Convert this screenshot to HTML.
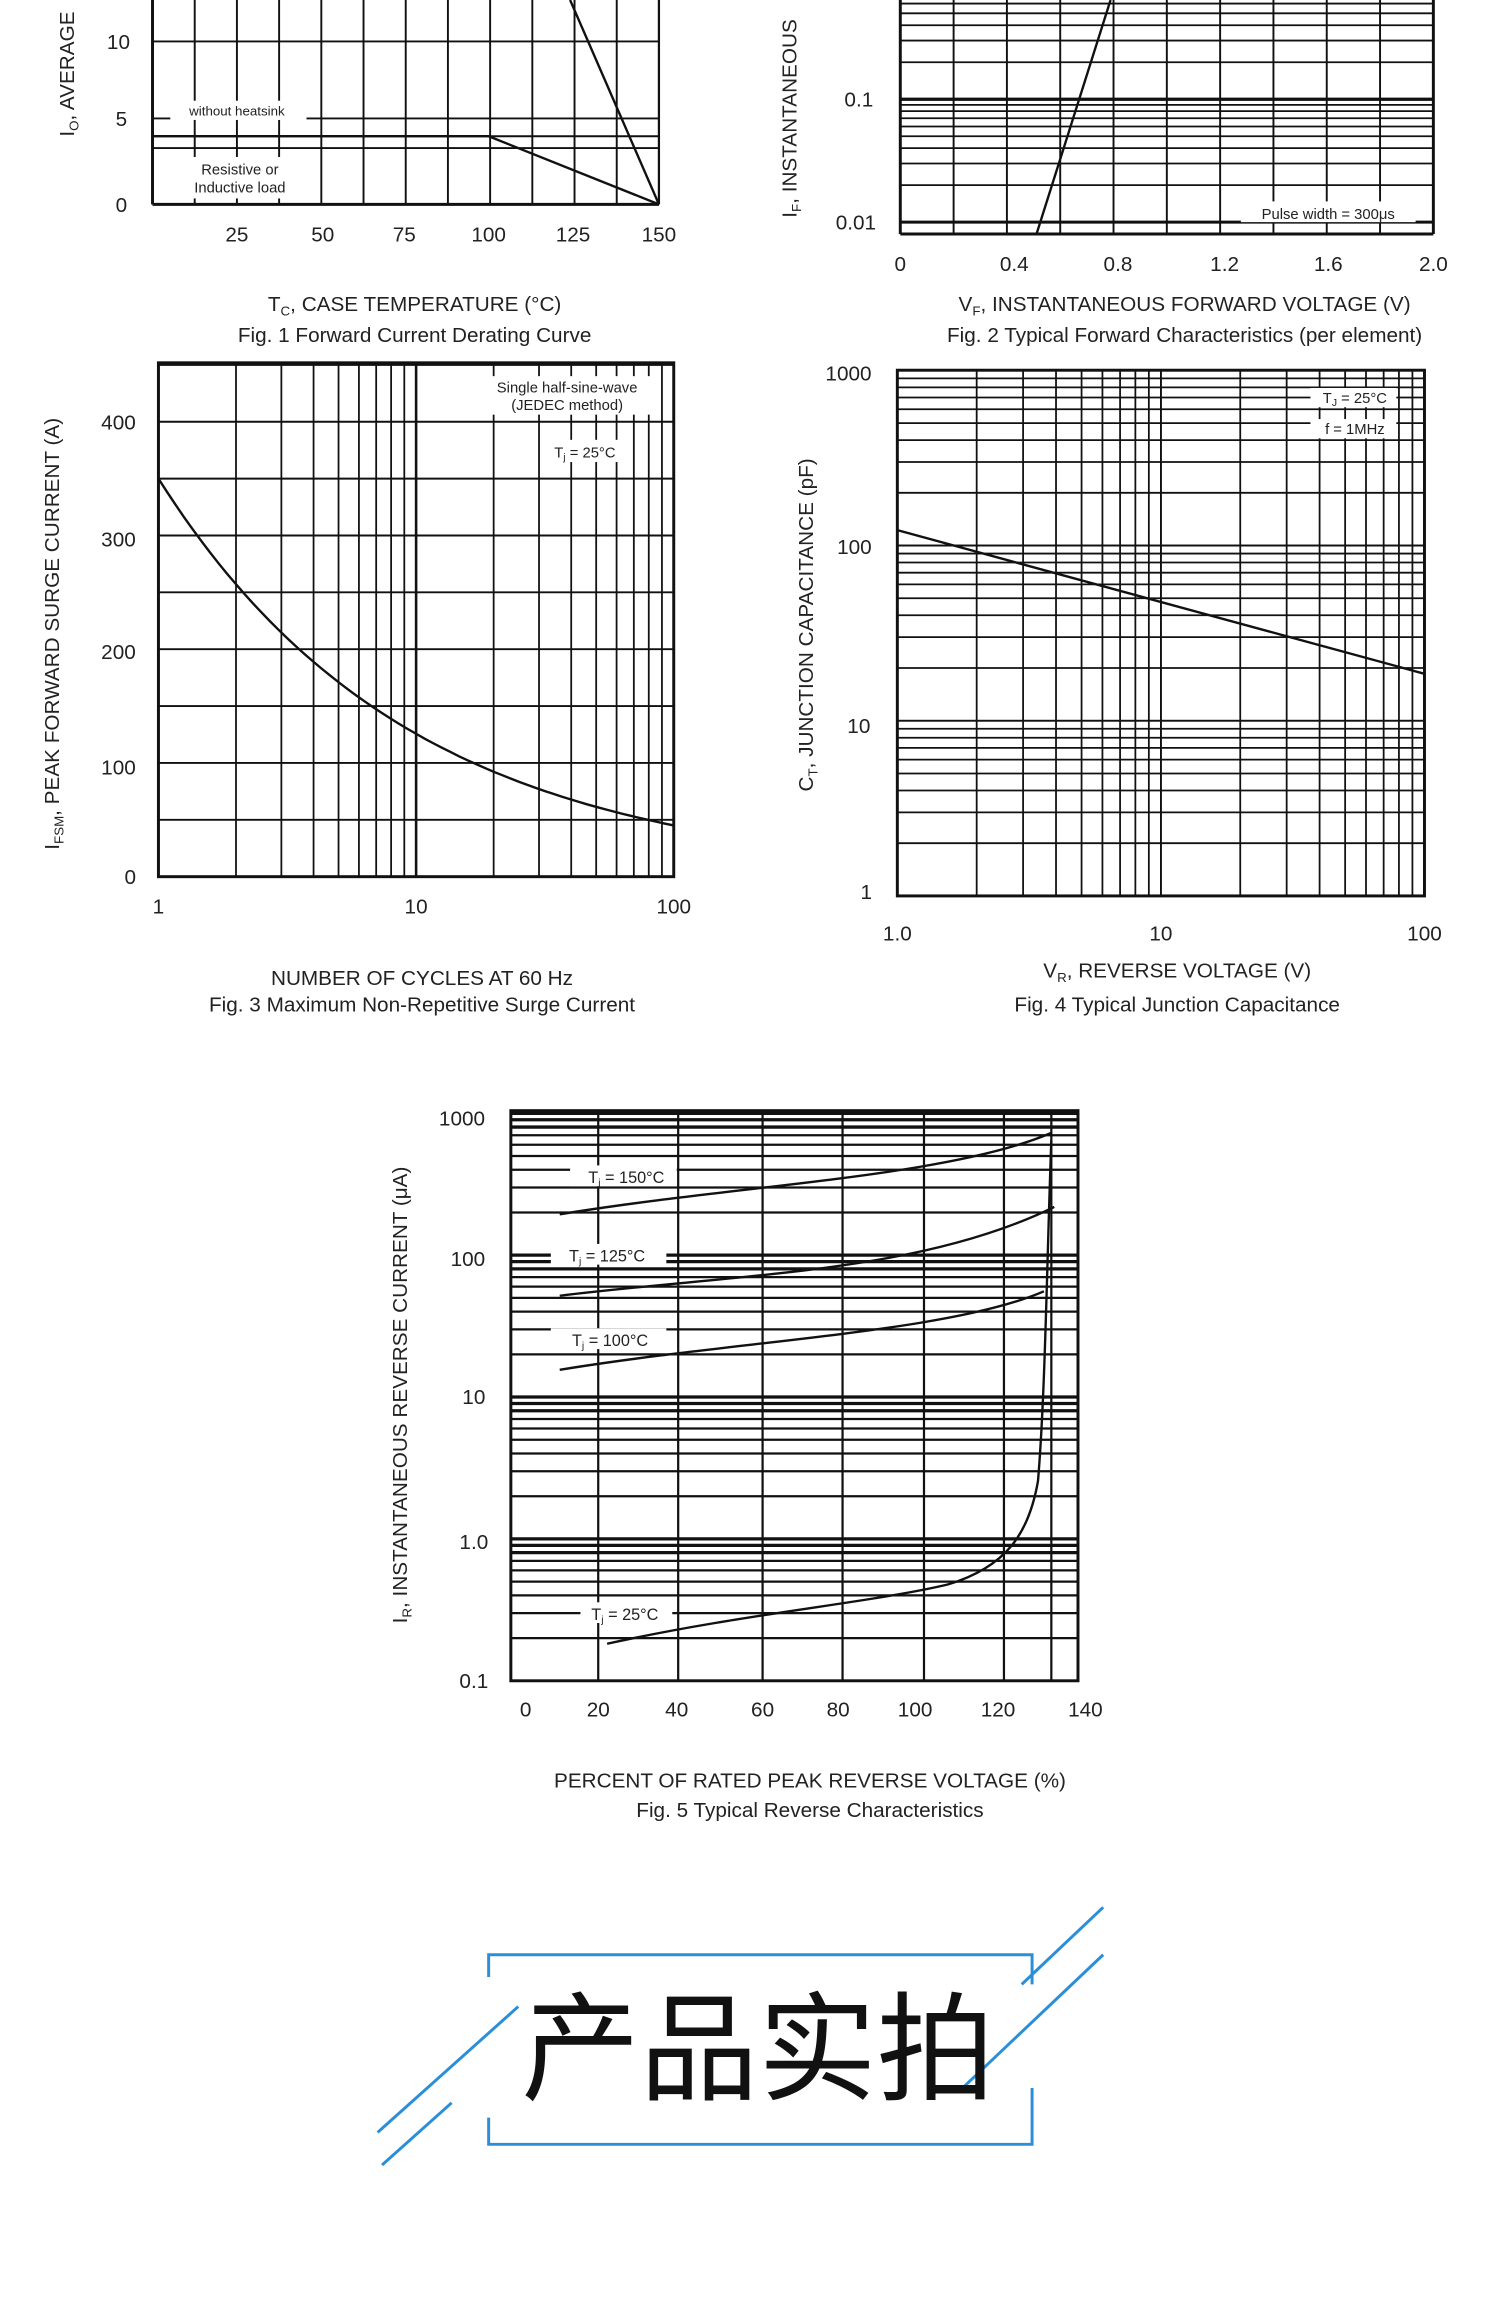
<!DOCTYPE html>
<html><head><meta charset="utf-8"><style>
html,body{margin:0;padding:0;background:#fff;}
svg{display:block;}
text{font-family:"Liberation Sans","Noto Sans CJK SC",sans-serif;fill:#222;}
</style></head><body>
<svg id="s" width="1500" height="2322" viewBox="0 0 1013 1568" preserveAspectRatio="none" xmlns="http://www.w3.org/2000/svg">
<rect width="1013" height="1568" fill="#fff"/>
<g id="g" stroke="#111" fill="none"></g>
<g fill="#fff">
<rect x="115" y="68" width="92" height="13"/>
<rect x="120" y="106" width="84" height="28"/>
<rect x="838" y="136" width="118" height="14"/>
<rect x="325" y="254" width="118" height="26"/>
<rect x="368" y="297" width="54" height="15"/>
<rect x="885" y="262" width="58" height="13"/>
<rect x="885" y="283" width="58" height="13"/>
</g>
<g font-size="14" text-anchor="middle">
<text x="80" y="33">10</text><text x="82" y="85">5</text><text x="82" y="143">0</text>
<text x="160" y="163">25</text><text x="218" y="163">50</text><text x="273" y="163">75</text><text x="330" y="163">100</text><text x="387" y="163">125</text><text x="445" y="163">150</text>
<text x="160" y="78" font-size="9">without heatsink</text>
<text x="162" y="118" font-size="10">Resistive or</text><text x="162" y="130" font-size="10">Inductive load</text>
<text transform="translate(50,50) rotate(-90)" font-size="14">I<tspan font-size="9" dy="3">O</tspan><tspan dy="-3">, AVERAGE</tspan></text>
<text x="280" y="210" font-size="14">T<tspan font-size="9" dy="3">C</tspan><tspan dy="-3">, CASE TEMPERATURE (°C)</tspan></text>
<text x="280" y="231" font-size="14">Fig. 1  Forward Current Derating Curve</text>
<text x="580" y="72">0.1</text><text x="578" y="155">0.01</text>
<text x="608" y="183">0</text><text x="685" y="183">0.4</text><text x="755" y="183">0.8</text><text x="827" y="183">1.2</text><text x="897" y="183">1.6</text><text x="968" y="183">2.0</text>
<text x="897" y="148" font-size="10">Pulse width = 300μs</text>
<text transform="translate(538,80) rotate(-90)" font-size="14">I<tspan font-size="9" dy="3">F</tspan><tspan dy="-3">, INSTANTANEOUS</tspan></text>
<text x="800" y="210" font-size="14">V<tspan font-size="9" dy="3">F</tspan><tspan dy="-3">, INSTANTANEOUS FORWARD VOLTAGE (V)</tspan></text>
<text x="800" y="231" font-size="14">Fig. 2  Typical Forward Characteristics (per element)</text>
<text x="80" y="290">400</text><text x="80" y="369">300</text><text x="80" y="445">200</text><text x="80" y="523">100</text><text x="88" y="597">0</text>
<text x="107" y="617">1</text><text x="281" y="617">10</text><text x="455" y="617">100</text>
<text x="383" y="265" font-size="10">Single half-sine-wave</text><text x="383" y="277" font-size="10">(JEDEC method)</text>
<text x="395" y="309" font-size="10">T<tspan font-size="7" dy="2">j</tspan><tspan dy="-2"> = 25°C</tspan></text>
<text transform="translate(40,428) rotate(-90)" font-size="14">I<tspan font-size="9" dy="3">FSM</tspan><tspan dy="-3">, PEAK FORWARD SURGE CURRENT (A)</tspan></text>
<text x="285" y="665">NUMBER OF CYCLES AT 60 Hz</text>
<text x="285" y="683">Fig. 3  Maximum Non-Repetitive Surge Current</text>
<text x="573" y="257">1000</text><text x="577" y="374">100</text><text x="580" y="495">10</text><text x="585" y="607">1</text>
<text x="606" y="635">1.0</text><text x="784" y="635">10</text><text x="962" y="635">100</text>
<text x="915" y="272" font-size="10">T<tspan font-size="7" dy="2">J</tspan><tspan dy="-2"> = 25°C</tspan></text>
<text x="915" y="293" font-size="10">f = 1MHz</text>
<text transform="translate(549,422) rotate(-90)" font-size="14">C<tspan font-size="9" dy="3">T</tspan><tspan dy="-3">, JUNCTION CAPACITANCE (pF)</tspan></text>
<text x="795" y="660">V<tspan font-size="9" dy="3">R</tspan><tspan dy="-3">, REVERSE VOLTAGE (V)</tspan></text>
<text x="795" y="683">Fig. 4  Typical Junction Capacitance</text>
<text x="312" y="760">1000</text><text x="316" y="855">100</text><text x="320" y="948">10</text><text x="320" y="1046">1.0</text><text x="320" y="1140">0.1</text>
<text x="355" y="1159">0</text><text x="404" y="1159">20</text><text x="457" y="1159">40</text><text x="515" y="1159">60</text><text x="566" y="1159">80</text><text x="618" y="1159">100</text><text x="674" y="1159">120</text><text x="733" y="1159">140</text>
<text transform="translate(275,942) rotate(-90)" font-size="14">I<tspan font-size="9" dy="3">R</tspan><tspan dy="-3">, INSTANTANEOUS REVERSE CURRENT (μA)</tspan></text>
<text x="547" y="1207">PERCENT OF RATED PEAK REVERSE VOLTAGE (%)</text>
<text x="547" y="1227">Fig. 5  Typical Reverse Characteristics</text>
</g>
<g font-size="11" text-anchor="middle">
<rect x="385" y="787" width="72" height="14" fill="#fff"/><text x="423" y="799">T<tspan font-size="7" dy="2">j</tspan><tspan dy="-2"> = 150°C</tspan></text>
<rect x="372" y="840" width="78" height="14" fill="#fff"/><text x="410" y="852">T<tspan font-size="7" dy="2">j</tspan><tspan dy="-2"> = 125°C</tspan></text>
<rect x="372" y="897" width="78" height="14" fill="#fff"/><text x="412" y="909">T<tspan font-size="7" dy="2">j</tspan><tspan dy="-2"> = 100°C</tspan></text>
<rect x="392" y="1082" width="62" height="14" fill="#fff"/><text x="422" y="1094">T<tspan font-size="7" dy="2">j</tspan><tspan dy="-2"> = 25°C</tspan></text>
</g>
<g stroke="#2a8fd8" stroke-width="2" fill="none">
<path d="M330 1335 V1320 H697 V1340"/>
<path d="M330 1430 V1448 H697 V1410"/>
<path d="M255 1440 L350 1355 M258 1462 L305 1420 M690 1340 L745 1288 M650 1410 L745 1320"/>
</g>
<text x="512" y="1412" font-size="80" text-anchor="middle" style="fill:#111">产品实拍</text>
</svg>
<script>
var g=document.getElementById('g'),h='';
function L(x1,y1,x2,y2,w){h+='<line x1="'+x1+'" y1="'+y1+'" x2="'+x2+'" y2="'+y2+'" stroke-width="'+(w||1.3)+'"/>';}
function lg(k){return Math.log10(k);}
for(var t=0;t<=150;t+=12.5){var x=103+t*342/150;L(x,0,x,138);}
[28,80,92,100,138].forEach(function(y){L(103,y,445,y);});
L(103,0,103,138,2);L(103,138,445,138,2);L(445,0,445,138,1.5);
h+='<path d="M103 92 H330 L445 138 M385 0 L445 138" stroke-width="1.6"/>';
for(var v=0;v<=10;v++){var x=608+v*36;L(x,0,x,158);}
for(var d=0;d<2;d++)for(var k=1;k<=10;k++){var y=150-d*83-lg(k)*83;if(y>=0)L(608,y,968,y,k==1||k==10?2:1.2);}
L(608,0,608,158,2);L(968,0,968,158,2);L(608,158,968,158,2);
h+='<path d="M700 158 L750 0" stroke-width="1.6"/>';
for(var d=0;d<2;d++)for(var k=1;k<=10;k++){var x=107+d*174+lg(k)*174;L(x,245,x,592,k==1||k==10?1.6:1.2);}
for(var v=0;v<=450;v+=50){var y=592-v*0.768;L(107,y,455,y);}
h+='<rect x="107" y="245" width="348" height="347" stroke-width="2"/>';
var p='M';for(var i=0;i<=60;i++){var n=Math.pow(10,i/30),x=107+lg(n)*174,y=592-350*Math.pow(n,-0.445)*0.768;p+=x.toFixed(1)+' '+y.toFixed(1)+' L';}
h+='<path d="'+p.slice(0,-2)+'" stroke-width="1.6"/>';
for(var d=0;d<2;d++)for(var k=1;k<=10;k++){var x=606+d*178+lg(k)*178;L(x,250,x,605,1.2);}
for(var d=0;d<3;d++)for(var k=1;k<=10;k++){var y=605-d*118.3-lg(k)*118.3;L(606,y,962,y,1.2);}
h+='<rect x="606" y="250" width="356" height="355" stroke-width="2"/>';
h+='<path d="M606 358 L962 455" stroke-width="1.6"/>';
[404,458,515,569,624,678,710].forEach(function(x){L(x,750,x,1135,1.5);});
for(var d=0;d<4;d++)for(var k=1;k<=10;k++){var y=1135-d*95.8-lg(k)*95.8;L(345,y,728,y,k>=8?2.2:1.5);}
h+='<rect x="345" y="750" width="383" height="385" stroke-width="2"/>';
h+='<path d="M378 820 C500 800 640 795 710 765" stroke-width="1.6"/>';
h+='<path d="M378 875 C500 860 620 860 712 815" stroke-width="1.6"/>';
h+='<path d="M378 925 C500 905 640 900 705 872" stroke-width="1.6"/>';
h+='<path d="M410 1110 C500 1090 590 1082 640 1070 C680 1058 695 1035 701 1000 C706 940 707 850 710 770" stroke-width="1.6"/>';
g.innerHTML=h;
</script>
</body></html>
